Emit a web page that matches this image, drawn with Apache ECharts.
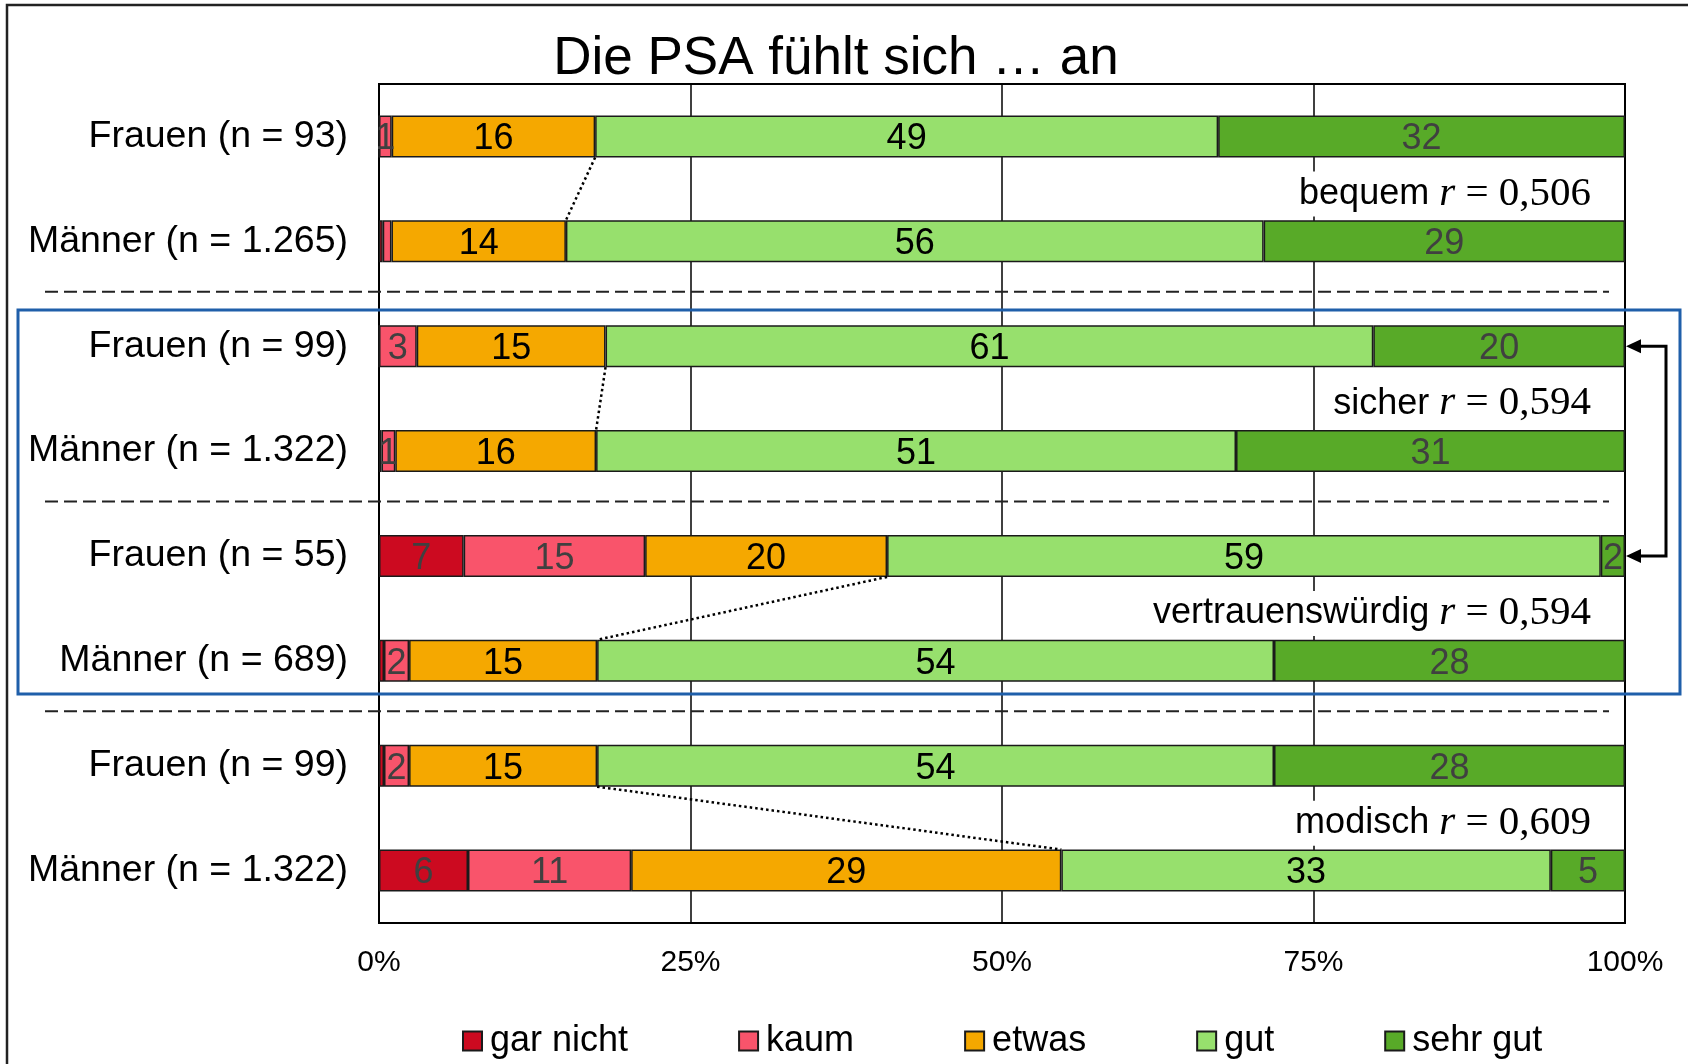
<!DOCTYPE html>
<html lang="de">
<head>
    <meta charset="UTF-8">
    <script src="https://cdn.jsdelivr.net/npm/echarts@6/dist/echarts.min.js"></script>
    <title>Die PSA fühlt sich … an</title>
</head>
<body>
    <style>
        html, body, #main {
            margin: 0;
            width: 1688px;
            height: 1064px;
            background: #fff;
        }
    </style>
    <div id="main"></div>
    <script>
        // rows top to bottom
        var categories = [
            'Frauen (n = 93)', 'Männer (n = 1.265)',
            'Frauen (n = 99)', 'Männer (n = 1.322)',
            'Frauen (n = 55)', 'Männer (n = 689)',
            'Frauen (n = 99)', 'Männer (n = 1.322)'
        ];
        var levels = ['gar nicht', 'kaum', 'etwas', 'gut', 'sehr gut'];

        // percentages as labelled (bars are normalised to 100 %)
        var garNicht = [0, 0.3, 0, 0.2, 7, 0.4, 0.4, 6];
        var kaum     = [1, 0.7, 3, 1.1, 15, 2, 2, 11];
        var etwas    = [16, 14, 15, 16, 20, 15, 15, 29];
        var gut      = [49, 56, 61, 51, 59, 54, 54, 33];
        var sehrGut  = [32, 29, 20, 31, 2, 28, 28, 5];

        var attributes = ['bequem', 'sicher', 'vertrauenswürdig', 'modisch'];
        var rValues = ['0,506', '0,594', '0,594', '0,609'];
        var pairRows = [0, 2, 4, 6];
        var separatorRows = [1, 3, 5];
        var arrowRows = [2, 4];

        var colors = ['#CC0A20', '#F9546B', '#F5A800', '#97E06D', '#58AA28'];
        var labelColors = ['#404040', '#404040', '#000', '#000', '#404040'];
        var font = '"Liberation Sans", Arial, sans-serif';
        var serif = '"Liberation Serif", "DejaVu Serif", serif';

        var raw = [garNicht, kaum, etwas, gut, sehrGut];
        var totals = categories.map(function (c, i) {
            return raw.reduce(function (s, arr) { return s + arr[i]; }, 0);
        });
        var shares = raw.map(function (arr) {
            return arr.map(function (v, i) { return v / totals[i] * 100; });
        });
        var boundary = categories.map(function (c, i) {
            return shares[0][i] + shares[1][i] + shares[2][i];
        });

        var barSeries = levels.map(function (name, k) {
            return {
                name: name,
                type: 'bar',
                stack: 'all',
                barWidth: '40%',
                data: shares[k],
                itemStyle: { color: colors[k], borderColor: '#1a1a1a', borderWidth: 1.5 },
                label: {
                    show: true,
                    position: 'inside',
                    fontSize: 36,
                    offset: [0, 3],
                    color: labelColors[k],
                    formatter: function (p) {
                        var v = raw[k][p.dataIndex];
                        return v >= 1 ? String(Math.round(v)) : '';
                    }
                }
            };
        });

        var chart = echarts.init(document.getElementById('main'));
        chart.setOption({
            animation: false,
            textStyle: { fontFamily: font },
            title: {
                text: 'Die PSA fühlt sich … an',
                left: 836,
                textAlign: 'center',
                top: 33,
                padding: 0,
                textStyle: { fontSize: 53, fontWeight: 'normal', color: '#000', fontFamily: font }
            },
            legend: {
                data: levels,
                left: 457,
                top: 1018,
                itemWidth: 19,
                itemHeight: 19,
                itemGap: 110,
                icon: 'rect',
                textStyle: { fontSize: 36, color: '#000', padding: [0, 0, 0, 3] }
            },
            grid: {
                left: 379,
                right: 63,
                top: 84,
                bottom: 141,
                show: true,
                borderColor: '#000',
                borderWidth: 2
            },
            xAxis: {
                type: 'value',
                min: 0,
                max: 100,
                interval: 25,
                axisLine: { show: false },
                axisTick: { show: false },
                splitLine: { lineStyle: { color: '#000', width: 1.5 } },
                axisLabel: { fontSize: 30, color: '#000', margin: 25, formatter: '{value}%' }
            },
            yAxis: {
                type: 'category',
                inverse: true,
                data: categories,
                axisLine: { lineStyle: { color: '#000', width: 2 } },
                axisTick: { show: false },
                axisLabel: { fontSize: 37.5, color: '#000', margin: 31, padding: [6, 0, 0, 0] }
            },
            graphic: [
                {
                    type: 'rect',
                    shape: { x: 18, y: 310, width: 1662, height: 384 },
                    style: { fill: 'none', stroke: '#1F5FAA', lineWidth: 3 },
                    z: 10
                },
                {
                    type: 'rect',
                    shape: { x: 7, y: 5, width: 1720, height: 1100 },
                    style: { fill: 'none', stroke: '#222', lineWidth: 2.5 },
                    z: 10
                }
            ],
            series: barSeries.concat([
                {
                    // dotted connectors between etwas/gut boundaries
                    type: 'custom',
                    silent: true,
                    encode: { x: [0, 1], y: 2 },
                    data: pairRows.map(function (r) { return [boundary[r], boundary[r + 1], r]; }),
                    renderItem: function (params, api) {
                        var r = api.value(2);
                        var a = api.coord([api.value(0), r]);
                        var b = api.coord([api.value(1), r + 1]);
                        var half = (b[1] - a[1]) * 0.2;
                        return {
                            type: 'line',
                            shape: { x1: a[0], y1: a[1] + half, x2: b[0], y2: b[1] - half },
                            style: { stroke: '#000', lineWidth: 2.5, lineDash: [2.5, 3] },
                            z2: 50
                        };
                    }
                },
                {
                    // dashed group separators
                    type: 'custom',
                    silent: true,
                    encode: { x: 0, y: 1 },
                    data: separatorRows.map(function (r) { return [0, r]; }),
                    renderItem: function (params, api) {
                        var r = api.value(1);
                        var a = api.coord([0, r]);
                        var b = api.coord([0, r + 1]);
                        var right = api.coord([100, r])[0];
                        var y = (a[1] + b[1]) / 2 - 2;
                        return {
                            type: 'line',
                            shape: { x1: a[0] - 334, y1: y, x2: right - 16, y2: y },
                            style: { stroke: '#222', lineWidth: 2, lineDash: [13, 6] }
                        };
                    }
                },
                {
                    // correlation labels
                    type: 'custom',
                    silent: true,
                    encode: { x: 0, y: 1 },
                    data: pairRows.map(function (r) { return [100, r]; }),
                    renderItem: function (params, api) {
                        var i = params.dataIndex;
                        var r = api.value(1);
                        var a = api.coord([100, r]);
                        var b = api.coord([100, r + 1]);
                        return {
                            type: 'text',
                            z2: 60,
                            style: {
                                text: '{w|' + attributes[i] + '} {r|r}{v| = ' + rValues[i] + '}',
                                x: a[0] - 32,
                                y: (a[1] + b[1]) / 2 + 5,
                                align: 'right',
                                verticalAlign: 'middle',
                                fontSize: 36,
                                fontFamily: font,
                                fill: '#000',
                                backgroundColor: '#fff',
                                padding: [2, 2],
                                rich: {
                                    w: { fontSize: 36, fontFamily: font, fill: '#000' },
                                    r: { fontSize: 41, fontFamily: serif, fontStyle: 'italic', fill: '#000' },
                                    v: { fontSize: 41, fontFamily: serif, fill: '#000' }
                                }
                            }
                        };
                    }
                },
                {
                    // bracket arrow on the right
                    type: 'custom',
                    silent: true,
                    encode: { x: 0, y: [1, 2] },
                    data: [[100, arrowRows[0], arrowRows[1]]],
                    renderItem: function (params, api) {
                        var a = api.coord([100, api.value(1)]);
                        var b = api.coord([100, api.value(2)]);
                        var xr = a[0] + 41;
                        var head = function (p) {
                            return {
                                type: 'polygon',
                                shape: { points: [[p[0] + 1, p[1]], [p[0] + 16, p[1] - 7], [p[0] + 16, p[1] + 7]] },
                                style: { fill: '#000' }
                            };
                        };
                        return {
                            type: 'group',
                            children: [
                                {
                                    type: 'polyline',
                                    shape: { points: [[a[0] + 12, a[1]], [xr, a[1]], [xr, b[1]], [a[0] + 12, b[1]]] },
                                    style: { stroke: '#000', lineWidth: 3, fill: 'none' }
                                },
                                head(a),
                                head(b)
                            ]
                        };
                    }
                }
            ])
        });
    </script>
</body>
</html>
